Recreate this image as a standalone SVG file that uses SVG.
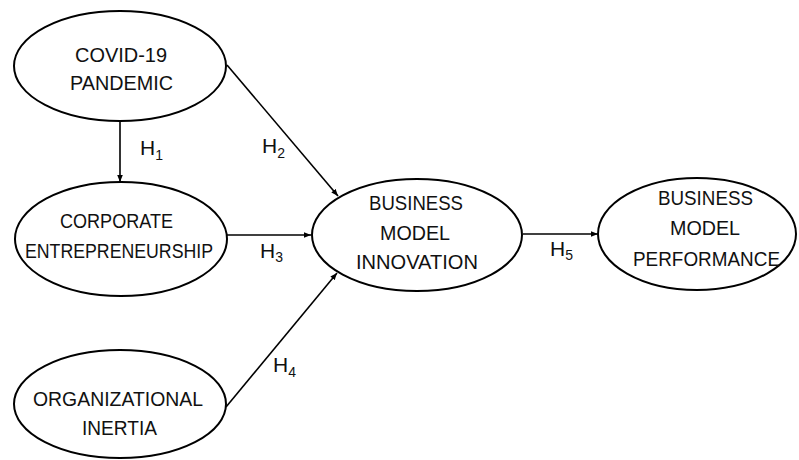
<svg xmlns="http://www.w3.org/2000/svg" width="799" height="460" viewBox="0 0 799 460">
<style>
.n ellipse{fill:#fff;stroke:#000;stroke-width:2}
text{font-family:"Liberation Sans",Arial,sans-serif;font-size:21px;fill:#111}
.s{font-size:14px}
.e{stroke:#000;stroke-width:1.6;fill:none;marker-end:url(#ah)}
</style>
<defs>
<marker id="ah" viewBox="0 0 10 10" refX="10" refY="5" markerWidth="7" markerHeight="7" markerUnits="userSpaceOnUse" orient="auto">
<path d="M0,1 L10,5 L0,9 z" fill="#000"/>
</marker>
</defs>
<g id="edges">
<line class="e" x1="120" y1="122" x2="120" y2="182"/>
<line class="e" x1="227" y1="65" x2="338" y2="196"/>
<line class="e" x1="227" y1="235" x2="311" y2="235"/>
<line class="e" x1="226" y1="407" x2="337" y2="273"/>
<line class="e" x1="523" y1="234" x2="598" y2="234"/>
<text x="140" y="155" textLength="23">H<tspan class="s" dy="5">1</tspan></text>
<text x="262" y="153" textLength="23">H<tspan class="s" dy="5">2</tspan></text>
<text x="260" y="258" textLength="23">H<tspan class="s" dy="4">3</tspan></text>
<text x="273" y="372" textLength="23">H<tspan class="s" dy="5">4</tspan></text>
<text x="550" y="256" textLength="23">H<tspan class="s" dy="4">5</tspan></text>
</g>
<g id="covid" class="n">
<ellipse cx="120" cy="66" rx="106" ry="55"/>
<text x="75" y="62" textLength="92" lengthAdjust="spacingAndGlyphs">COVID-19</text>
<text x="70" y="90" textLength="103" lengthAdjust="spacingAndGlyphs">PANDEMIC</text>
</g>
<g id="corporate" class="n">
<ellipse cx="121" cy="239" rx="106" ry="57"/>
<text x="60" y="228" textLength="113" lengthAdjust="spacingAndGlyphs">CORPORATE</text>
<text x="25" y="258" textLength="188" lengthAdjust="spacingAndGlyphs">ENTREPRENEURSHIP</text>
</g>
<g id="inertia" class="n">
<ellipse cx="120" cy="404" rx="106" ry="54"/>
<text x="33" y="406" textLength="170" lengthAdjust="spacingAndGlyphs">ORGANIZATIONAL</text>
<text x="82" y="435" textLength="75" lengthAdjust="spacingAndGlyphs">INERTIA</text>
</g>
<g id="bmi" class="n">
<ellipse cx="417" cy="235" rx="105" ry="56"/>
<text x="369" y="210" textLength="94" lengthAdjust="spacingAndGlyphs">BUSINESS</text>
<text x="380" y="240" textLength="70" lengthAdjust="spacingAndGlyphs">MODEL</text>
<text x="356" y="269" textLength="122" lengthAdjust="spacingAndGlyphs">INNOVATION</text>
</g>
<g id="bmp" class="n">
<ellipse cx="697" cy="234" rx="99" ry="56"/>
<text x="658" y="205" textLength="95" lengthAdjust="spacingAndGlyphs">BUSINESS</text>
<text x="670" y="235" textLength="70" lengthAdjust="spacingAndGlyphs">MODEL</text>
<text x="633" y="266" textLength="147" lengthAdjust="spacingAndGlyphs">PERFORMANCE</text>
</g>
</svg>
